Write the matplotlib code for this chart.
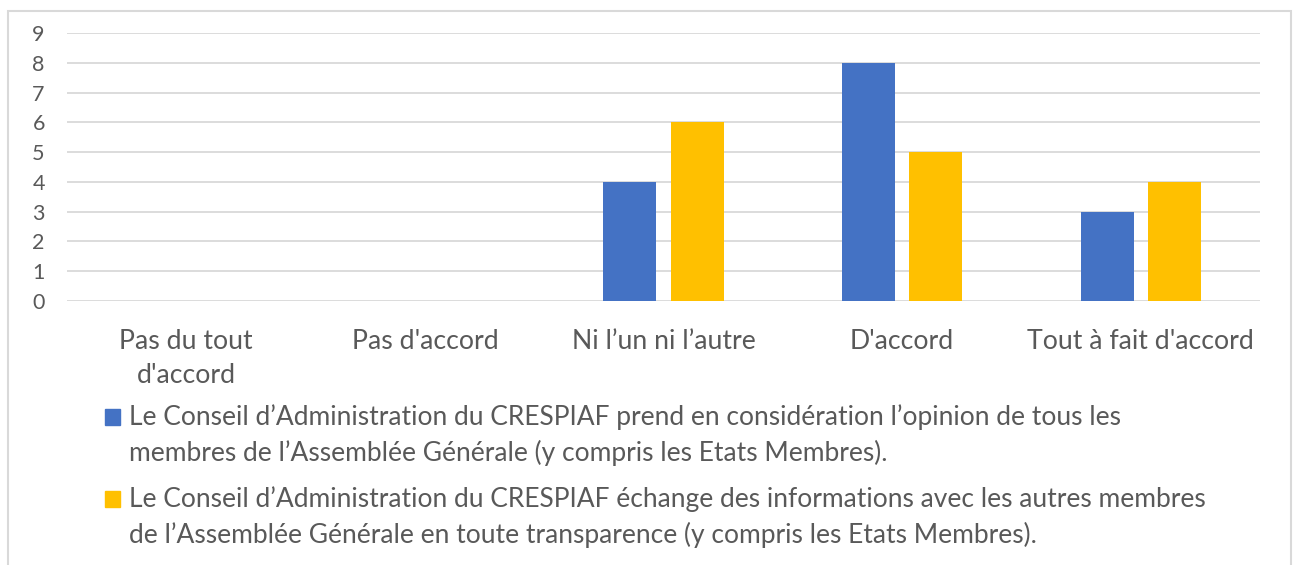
import numpy as np
import matplotlib.pyplot as plt
from matplotlib.patches import Rectangle

plt.rcParams['font.family'] = ['Lato', 'DejaVu Sans']

# data
categories = ["Pas du tout\nd'accord", "Pas d'accord", "Ni l\u2019un ni l\u2019autre",
              "D'accord", "Tout \u00e0 fait d'accord"]
opinion = [0, 0, 4, 8, 3]
transparence = [0, 0, 6, 5, 4]
labels = [["Le Conseil d\u2019Administration du CRESPIAF prend en consid\u00e9ration l\u2019opinion de tous les",
           "membres de l\u2019Assembl\u00e9e G\u00e9n\u00e9rale (y compris les Etats Membres)."],
          ["Le Conseil d\u2019Administration du CRESPIAF \u00e9change des informations avec les autres membres",
           "de l\u2019Assembl\u00e9e G\u00e9n\u00e9rale en toute transparence (y compris les Etats Membres)."]]
colors = ['#4472C4', '#FFC000']
text_color = '#595959'

W, H = 1296, 565
fig = plt.figure(figsize=(W / 100, H / 100), dpi=100)
ax = fig.add_axes([67 / W, 1 - 301 / H, (1260 - 67) / W, (301 - 33) / H])

x = np.arange(len(categories))
bw = 0.222
off = 0.141
ax.bar(x - off, opinion, bw, color=colors[0], zorder=3)
ax.bar(x + off, transparence, bw, color=colors[1], zorder=3)

ax.set_xlim(-0.5, len(categories) - 0.5)
ax.set_ylim(0, 9)
ax.set_yticks(range(0, 10))
ax.yaxis.grid(True, color='#D9D9D9', lw=1.3, zorder=0)
for s in ax.spines.values():
    s.set_visible(False)
ax.tick_params(axis='both', length=0, colors=text_color)
ax.tick_params(axis='y', labelsize=15.5, pad=16)
ax.set_xticks(x)
ax.set_xticklabels(categories, fontsize=19.2, color=text_color, linespacing=1.45)
ax.tick_params(axis='x', pad=20)

# legend, drawn by hand so the wrapped text lines up like the original
leg_y = [417, 499]
for c, lines, y in zip(colors, labels, leg_y):
    fig.patches.append(Rectangle((105 / W, 1 - (y + 8) / H), 15 / W, 16 / H,
                                 transform=fig.transFigure, color=c))
    for k, line in enumerate(lines):
        fig.text(129 / W, 1 - (y + 35.5 * k) / H, line, fontsize=19, color=text_color,
                 va='center', ha='left')

# chart frame
fig.patches.append(Rectangle((8 / W, -0.05), (1291 - 8) / W, 1 - 11 / H + 0.05,
                             transform=fig.transFigure, fill=False,
                             ec='#D9D9D9', lw=1.5))

fig.savefig('out.png', dpi=100)
